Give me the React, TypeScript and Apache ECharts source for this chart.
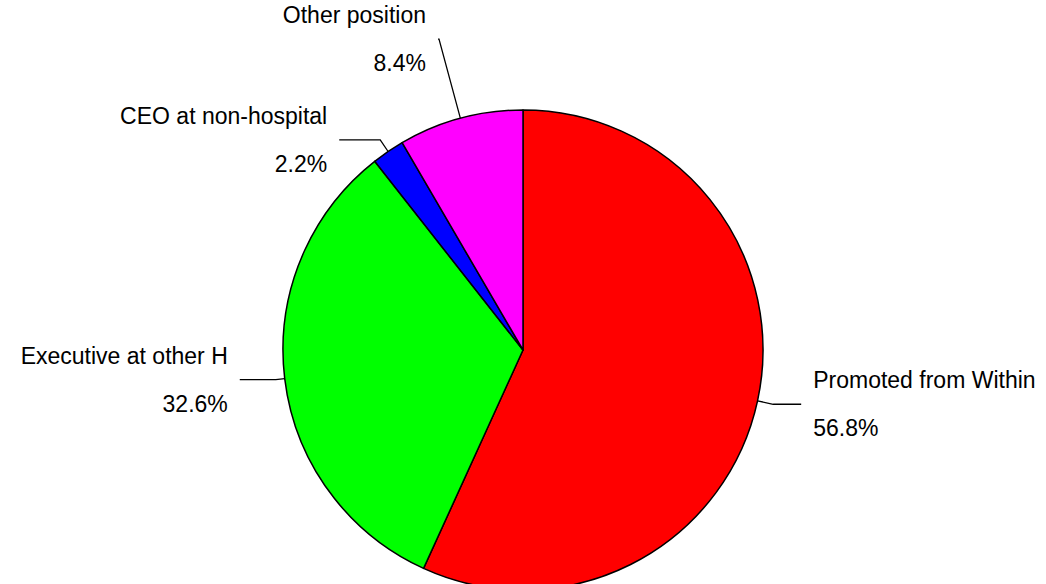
import React, { useEffect, useRef } from "react";
import * as echarts from "echarts";

const categories = ["Promoted from Within", "Executive at other H", "CEO at non-hospital", "Other position"];
const values = [56.8, 32.6, 2.2, 8.4];
const colors = ["#FF0000", "#00FF00", "#0000FF", "#FF00FF"];
// leader line lengths per slice (layout only)
const lineLen1 = [16, 9, 14, 82];
const lineLen2 = [28, 36, 41, 1];

export default function App() {
  const ref = useRef<HTMLDivElement>(null);
  useEffect(() => {
    if (!ref.current) return;
    const chart = echarts.init(ref.current, null, { renderer: "svg" });
    chart.setOption({
      animation: false,
      backgroundColor: "#ffffff",
      series: [
        {
          type: "pie",
          left: 0,
          top: 0,
          width: 1400,
          height: 584,
          center: [523, 350],
          radius: 240,
          startAngle: 90,
          clockwise: true,
          avoidLabelOverlap: false,
          percentPrecision: 1,
          itemStyle: { borderColor: "#000000", borderWidth: 1.5 },
          label: {
            show: true,
            position: "outside",
            formatter: "{b}\n\n{d}%",
            fontFamily: "'Liberation Sans', Arial, sans-serif",
            fontSize: 23,
            lineHeight: 24,
            color: "#000000",
            distanceToLabelLine: 12,
            overflow: "none",
          },
          labelLine: {
            show: true,
            lineStyle: { color: "#000000", width: 1.3 },
          },
          emphasis: { disabled: true },
          data: categories.map((name, i) => ({
            name,
            value: values[i],
            itemStyle: { color: colors[i] },
            labelLine: { length: lineLen1[i], length2: lineLen2[i] },
          })),
        },
      ],
    });
    return () => chart.dispose();
  }, []);
  return (
    <div
      ref={ref}
      style={{ position: "fixed", left: 0, top: 0, width: 1046, height: 584 }}
    />
  );
}
